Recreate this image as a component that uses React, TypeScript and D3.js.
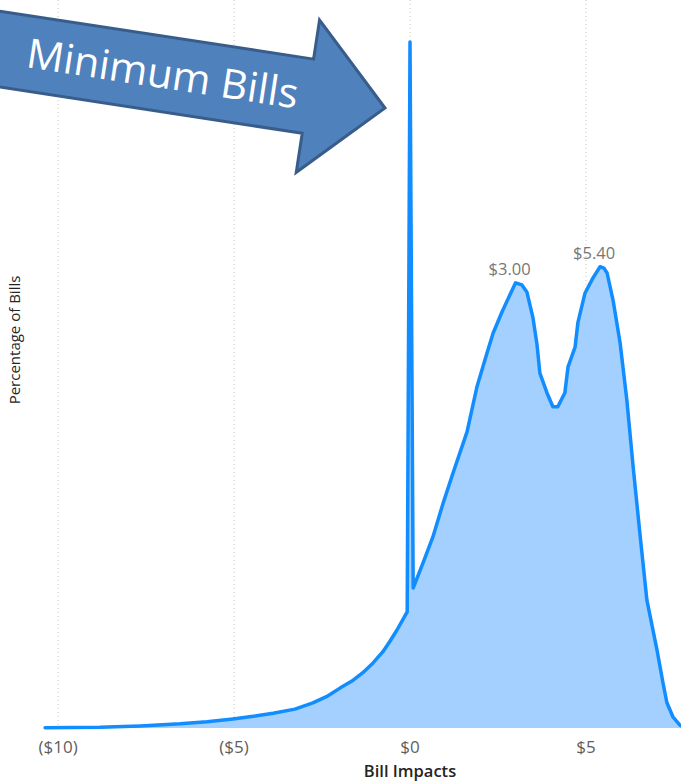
import React from 'react';
import * as d3 from 'd3';

// Distribution of bill impacts (dollars) vs share of bills (%)
const billImpacts = [
  -10.37, -8.81, -7.67, -6.53, -5.77, -5.03, -4.4, -3.89, -3.27, -2.76, -2.33, -1.99, -1.65, -1.34, -1.05, -0.77,
  -0.57, -0.37, -0.08, 0.0, 0.09, 0.37, 0.65, 0.94, 1.22, 1.62, 1.9, 2.19, 2.36, 2.61, 2.84, 3.0, 3.18, 3.32, 3.49,
  3.61, 3.69, 3.89, 4.06, 4.2, 4.4, 4.49, 4.69, 4.77, 4.97, 5.2, 5.4, 5.51, 5.6, 5.77, 5.97, 6.16, 6.34, 6.53, 6.73,
  7.02, 7.19, 7.3, 7.47, 7.67, 7.75,
];
const percentOfBills = [
  0.005, 0.01, 0.03, 0.06, 0.09, 0.13, 0.17, 0.21, 0.27, 0.36, 0.46, 0.57, 0.67, 0.79, 0.93, 1.09,
  1.24, 1.4, 1.66, 9.8, 2.0, 2.36, 2.73, 3.21, 3.64, 4.23, 4.87, 5.36, 5.64, 5.94, 6.19, 6.36, 6.33, 6.23, 5.87,
  5.47, 5.07, 4.79, 4.59, 4.59, 4.79, 5.16, 5.44, 5.79, 6.21, 6.43, 6.59, 6.57, 6.5, 6.11, 5.5, 4.69, 3.73, 2.79, 1.83,
  1.11, 0.64, 0.36, 0.16, 0.04, 0.02,
];
const tickValues = [-10, -5, 0, 5];
const tickLabels = ['($10)', '($5)', '$0', '$5'];
const peakImpacts = [3.0, 5.4];
const peakLabels = ['$3.00', '$5.40'];

const W = 681;
const H = 783;
const baseline = 728;

export default function App() {
  const x = d3.scaleLinear().domain([-10.4, 7.7]).range([44, 681]);
  const y = d3.scaleLinear().domain([0, 10]).range([baseline, 28]);

  const points = billImpacts.map((b, i) => [b, percentOfBills[i]] as [number, number]);

  const area = d3
    .area<[number, number]>()
    .x((d) => x(d[0]))
    .y0(baseline)
    .y1((d) => y(d[1]));
  const line = d3
    .line<[number, number]>()
    .x((d) => x(d[0]))
    .y((d) => y(d[1]));

  // Callout arrow, drawn in its own frame with the tip at the origin
  const shaftHalf = 37.5;
  const headHalf = 77;
  const headLen = 78;
  const shaftStart = -440;
  const arrowPts = [
    [shaftStart, -shaftHalf],
    [-headLen, -shaftHalf],
    [-headLen, -headHalf],
    [0, 0],
    [-headLen, headHalf],
    [-headLen, shaftHalf],
    [shaftStart, shaftHalf],
  ];

  return (
    <svg
      width={W}
      height={H}
      style={{ position: 'absolute', left: 0, top: 0, display: 'block', background: '#fff' }}
    >
      {/* vertical gridlines */}
      {tickValues.map((t) => (
        <line
          key={'g' + t}
          x1={x(t)}
          x2={x(t)}
          y1={0}
          y2={baseline}
          stroke="#c8c6c4"
          strokeWidth={1}
          strokeDasharray="1 3"
        />
      ))}

      <path d={area(points) || ''} fill="#a3d0ff" />
      <path
        d={line(points) || ''}
        fill="none"
        stroke="#118dff"
        strokeWidth={3.5}
        strokeLinejoin="round"
        strokeLinecap="round"
      />

      {/* peak labels */}
      {peakImpacts.map((p, i) => {
        const idx = billImpacts.indexOf(p);
        return (
          <text
            key={'p' + i}
            x={x(p) - 6}
            y={y(percentOfBills[idx]) - 8}
            textAnchor="middle"
            fontFamily="'Open Sans', sans-serif"
            fontSize={16.5}
            fill="#777777"
          >
            {peakLabels[i]}
          </text>
        );
      })}

      {/* x-axis tick labels */}
      {tickValues.map((t, i) => (
        <text
          key={'t' + t}
          x={x(t)}
          y={753}
          textAnchor="middle"
          fontFamily="'Open Sans', sans-serif"
          fontSize={17}
          fill="#605e5c"
        >
          {tickLabels[i]}
        </text>
      ))}
      <text
        x={x(0)}
        y={777}
        textAnchor="middle"
        fontFamily="'Open Sans', sans-serif"
        fontSize={16.5}
        fontWeight={600}
        fill="#252423"
      >
        Bill Impacts
      </text>
      <text
        transform={`translate(20, 340) rotate(-90)`}
        textAnchor="middle"
        fontFamily="'Open Sans', sans-serif"
        fontSize={15}
        fontWeight={500}
        fill="#252423"
      >
        Percentage of Bills
      </text>

      {/* callout arrow */}
      <g transform="translate(385, 108) rotate(8.7)">
        <polygon
          points={arrowPts.map((p) => p.join(',')).join(' ')}
          fill="#4f81bd"
          stroke="#385d8a"
          strokeWidth={3}
          strokeLinejoin="miter"
        />
        <text
          x={-225}
          y={14}
          textAnchor="middle"
          fontFamily="'Open Sans', sans-serif"
          fontSize={41}
          fill="#ffffff"
          textLength={274}
          lengthAdjust="spacingAndGlyphs"
        >
          Minimum Bills
        </text>
      </g>
    </svg>
  );
}
